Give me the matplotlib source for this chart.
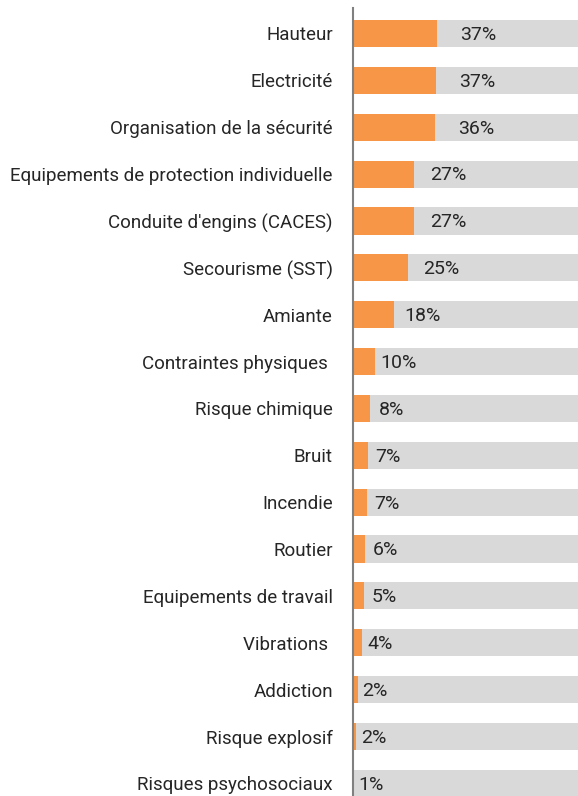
import matplotlib
matplotlib.use("Agg")
import matplotlib.pyplot as plt

categories = ["Hauteur", "Electricité", "Organisation de la sécurité",
              "Equipements de protection individuelle", "Conduite d'engins (CACES)",
              "Secourisme (SST)", "Amiante", "Contraintes physiques ",
              "Risque chimique", "Bruit", "Incendie", "Routier",
              "Equipements de travail", "Vibrations ", "Addiction",
              "Risque explosif", "Risques psychosociaux"]
values = [37.3, 37.0, 36.4, 27.0, 27.0, 24.6, 18.2, 9.8, 7.5, 6.5, 6.1, 5.4, 5.0, 3.8, 2.0, 1.5, 0.6]
labels = ["37%", "37%", "36%", "27%", "27%", "25%", "18%", "10%", "8%", "7%", "7%",
          "6%", "5%", "4%", "2%", "2%", "1%"]
total = 100

plt.rcParams['font.family'] = ['Roboto', 'DejaVu Sans']

W, H = 578, 796
fig = plt.figure(figsize=(W / 100, H / 100), dpi=100)
ax = fig.add_axes([353 / W, 0, 1 - 353 / W, (796 - 8) / H])

y = list(range(len(categories)))
ax.barh(y, [total] * len(y), height=0.58, color="#D9D9D9", zorder=1)
ax.barh(y, values, height=0.58, color="#F79646", zorder=2)

for yi, v, lab in zip(y, values, labels):
    ax.text(v * 1.3 + 7.3, yi + 0.03, lab, ha="center", va="center",
            fontsize=14, color="#262626", zorder=3)

ax.set_xlim(0, total)
ax.set_ylim(16.27, -0.544)
ax.set_yticks(y)
ax.set_yticklabels(categories, fontsize=13.5, color="#262626")
ax.tick_params(axis="y", length=0, pad=14.5)
ax.set_xticks([])
for s in ["top", "right", "bottom"]:
    ax.spines[s].set_visible(False)
ax.spines["left"].set_color("#808080")
ax.spines["left"].set_linewidth(1.5)
ax.spines["left"].set_zorder(4)

fig.savefig("out.png", dpi=100)
